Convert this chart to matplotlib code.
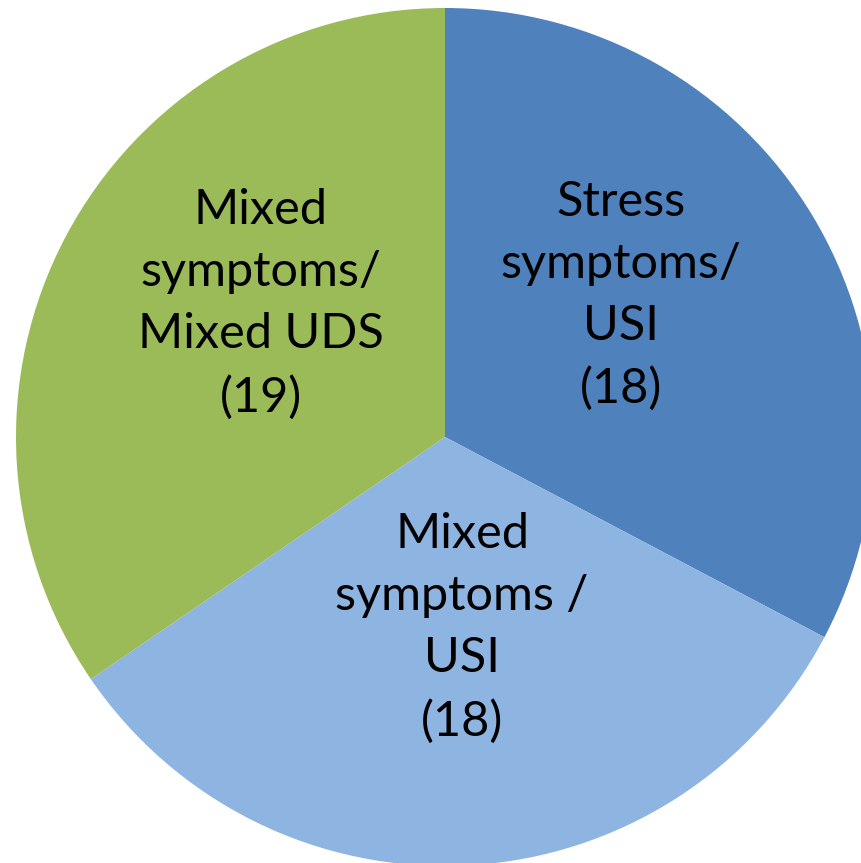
# Grafico de pastel: tipos de sintomas / diagnostico urodinamico
import matplotlib.pyplot as plt

# Datos del grafico
categorias = ['Stress\nsymptoms/\nUSI', 'Mixed\nsymptoms /\nUSI',
              'Mixed\nsymptoms/\nMixed UDS']
valores = [18, 18, 19]
colores = ['#4F81BD', '#8EB4E2', '#9BBB59']

# Posiciones de las etiquetas dentro de cada sector
pos_etiquetas = [(0.41, 0.33), (0.04, -0.445), (-0.43, 0.31)]

fig = plt.figure(figsize=(8.61, 8.63), dpi=100)
ax = fig.add_axes([0, 0, 1, 1])

ax.pie(valores, colors=colores, startangle=90, counterclock=False,
       radius=1.0, center=(0, 0), wedgeprops=dict(linewidth=0))

for cat, val, (x, y) in zip(categorias, valores, pos_etiquetas):
    ax.text(x, y, f'{cat}\n({val})', ha='center', va='center',
            fontsize=35, family='Lato', linespacing=1.5, color='black')

# Limites para que el pastel quede como en la imagen (recortado a la derecha)
escala = 429
ax.set_xlim(-445 / escala, (861 - 445) / escala)
ax.set_ylim(-(863 - 437) / escala, 437 / escala)
ax.set_aspect('auto')
ax.axis('off')

fig.savefig('out.png', dpi=100)
